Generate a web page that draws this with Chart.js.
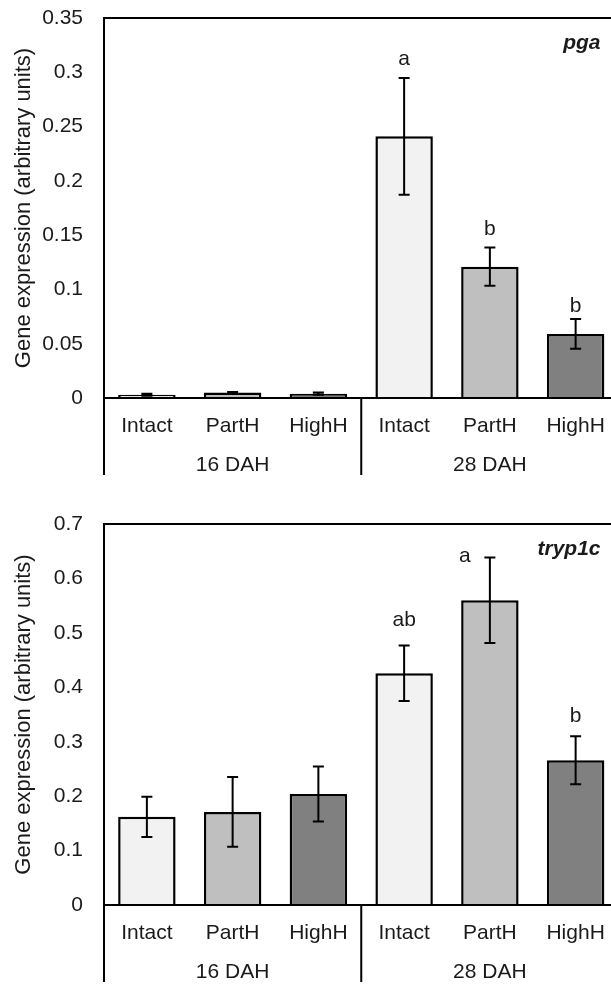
<!DOCTYPE html>
<html><head><meta charset="utf-8">
<script src="https://cdn.jsdelivr.net/npm/chart.js@4.4.1/dist/chart.umd.min.js"></script>
<style>
html,body{margin:0;padding:0;background:#fff;overflow:hidden;width:611px;height:985px;}
#wrap{position:relative;width:611px;height:985px;overflow:hidden;background:#fff;}
canvas{position:absolute;left:0;}
</style></head><body>
<div id="wrap">
<canvas id="c1" width="640" height="478" style="top:0px"></canvas>
<canvas id="c2" width="640" height="479" style="top:506px"></canvas>
</div>
<script>
// ---- data ----
const categories = ['Intact','PartH','HighH','Intact','PartH','HighH'];
const groups = ['16 DAH','28 DAH'];
const groupSize = 3;
const barColors = ['#f2f2f2','#bfbfbf','#808080','#f2f2f2','#bfbfbf','#808080'];

const pgaMean = [0.003, 0.005, 0.004, 0.241, 0.121, 0.059];
const pgaErr  = [0.001, 0.0005, 0.001, 0.0537, 0.0177, 0.0137];
const pgaLetters = ['', '', '', 'a', 'b', 'b'];
const pgaAxis = {max: 0.35, step: 0.05};

const tryMean = [0.162, 0.171, 0.204, 0.426, 0.560, 0.266];
const tryErr  = [0.037, 0.064, 0.0505, 0.051, 0.0785, 0.044];
const tryLetters = ['', '', '', 'ab', 'a', 'b'];
const tryAxis = {max: 0.7, step: 0.1};

const yTitle = 'Gene expression (arbitrary units)';
const FONT = "'Liberation Sans', Arial, sans-serif";
const TXT = '#1a1a1a';
Chart.defaults.font.family = FONT;
Chart.defaults.color = TXT;

const decor = {
  id: 'decor',
  afterDatasetsDraw(chart, args, o) {
    const ctx = chart.ctx, xs = chart.scales.x, ys = chart.scales.y, ca = chart.chartArea;
    const meta = chart.getDatasetMeta(0);
    const vals = chart.data.datasets[0].data;
    const zero = ys.getPixelForValue(0);
    ctx.save();
    ctx.strokeStyle = '#000';
    ctx.lineWidth = 2;
    // error bars
    ctx.beginPath();
    o.err.forEach((e, i) => {
      const x = meta.data[i].x;
      const yt = ys.getPixelForValue(vals[i] + e), yb = ys.getPixelForValue(vals[i] - e);
      ctx.moveTo(x, yt); ctx.lineTo(x, yb);
      ctx.moveTo(x - 5.5, yt); ctx.lineTo(x + 5.5, yt);
      ctx.moveTo(x - 5.5, yb); ctx.lineTo(x + 5.5, yb);
    });
    ctx.stroke();
    // frame and group dividers
    const ext = 77;
    ctx.beginPath();
    ctx.moveTo(ca.left, zero + ext); ctx.lineTo(ca.left, ca.top); ctx.lineTo(ca.right + 20, ca.top);
    ctx.moveTo(ca.left - 1, zero); ctx.lineTo(ca.right + 20, zero);
    for (let g = 1; g < groups.length; g++) {
      const x = (xs.getPixelForValue(g * groupSize - 1) + xs.getPixelForValue(g * groupSize)) / 2;
      ctx.moveTo(x, zero); ctx.lineTo(x, zero + ext);
    }
    ctx.stroke();
    // group labels
    ctx.fillStyle = TXT;
    ctx.font = '21px ' + FONT;
    ctx.textAlign = 'center';
    ctx.textBaseline = 'alphabetic';
    groups.forEach((g, k) => {
      const x = (xs.getPixelForValue(k * groupSize) + xs.getPixelForValue(k * groupSize + groupSize - 1)) / 2;
      ctx.fillText(g, x, zero + 72.5);
    });
    // significance letters
    o.letters.forEach((t, i) => {
      if (!t) return;
      const x = meta.data[i].x + (o.letterDx[i] || 0);
      const yt = ys.getPixelForValue(vals[i] + o.err[i]);
      ctx.fillText(t, x, yt + o.letterDy[i]);
    });
    // gene name
    ctx.font = 'italic bold 21px ' + FONT;
    ctx.textAlign = 'right';
    ctx.fillText(o.gene, ca.right - 18, ca.top + 31);
    ctx.restore();
  }
};

function makeChart(id, mean, err, letters, axis, gene, letterDx, letterDy) {
  return new Chart(document.getElementById(id), {
    type: 'bar',
    data: {
      labels: categories,
      datasets: [{
        data: mean,
        backgroundColor: barColors,
        borderColor: '#000',
        borderWidth: 2.5,
        barPercentage: 0.67,
        categoryPercentage: 1.0
      }]
    },
    options: {
      responsive: false,
      animation: false,
      devicePixelRatio: 1,
      layout: {padding: {top: 18, left: 0, right: 21.5, bottom: 0}},
      plugins: {
        legend: {display: false},
        tooltip: {enabled: false},
        decor: {err: err, letters: letters, gene: gene, letterDx: letterDx, letterDy: letterDy}
      },
      scales: {
        x: {
          grid: {display: false, drawTicks: false},
          border: {display: false},
          ticks: {font: {size: 21}, color: TXT, padding: 16, maxRotation: 0, autoSkip: false},
          afterFit: s => { s.height = 80; s.paddingLeft = 0; s.paddingRight = 0; }
        },
        y: {
          min: 0, max: axis.max,
          grid: {display: false, drawTicks: false},
          border: {display: false},
          ticks: {
            stepSize: axis.step, font: {size: 21}, color: TXT, padding: 21,
            callback: v => String(parseFloat(Number(v).toFixed(2)))
          },
          title: {display: true, text: yTitle, font: {size: 22}, color: TXT, padding: {top: 11, bottom: 0}},
          afterFit: s => { s.width = 104; s.paddingTop = 0; s.paddingBottom = 0; }
        }
      }
    },
    plugins: [decor]
  });
}

makeChart('c1', pgaMean, pgaErr, pgaLetters, pgaAxis, 'pga',
  [0, 0, 0, 0, 0, 0], [0, 0, 0, -13, -12, -7]);
makeChart('c2', tryMean, tryErr, tryLetters, tryAxis, 'tryp1c',
  [0, 0, 0, 0, -25, 0], [0, 0, 0, -19, 5, -14]);
</script>
</body></html>
